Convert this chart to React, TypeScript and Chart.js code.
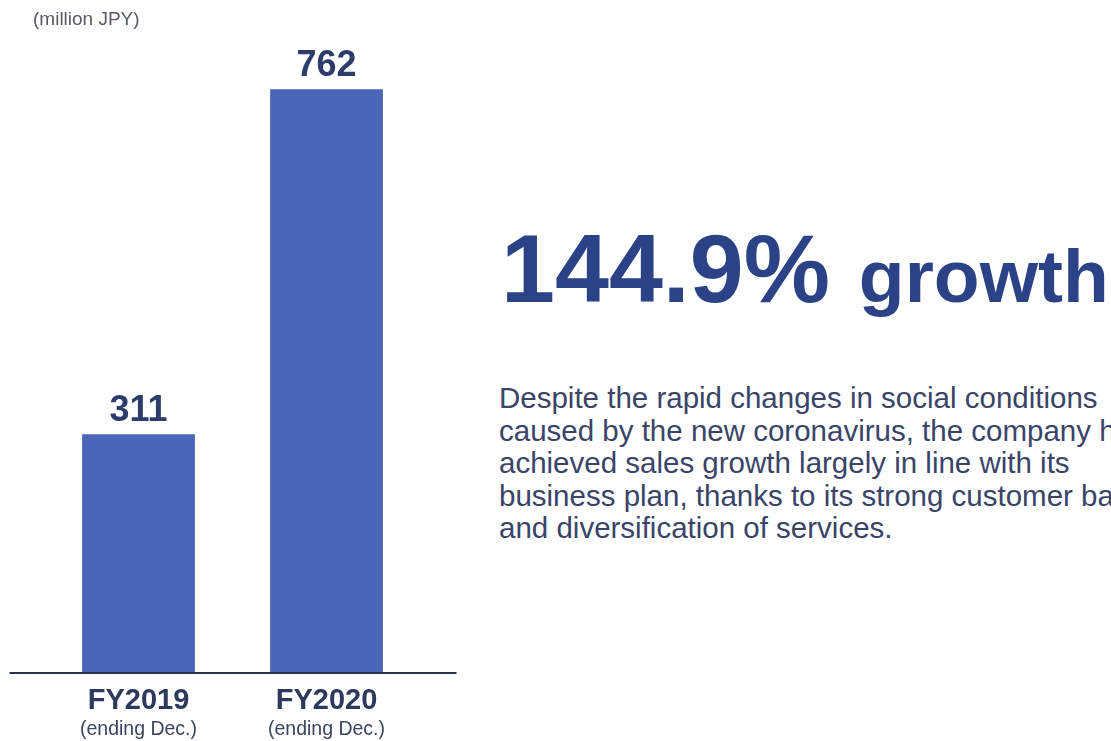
import React, { useEffect, useRef } from "react";
import { Chart, registerables } from "chart.js";

Chart.register(...registerables);

const categories = ["FY2019", "FY2020"];
const subLabels = ["(ending Dec.)", "(ending Dec.)"];
const sales = [311, 762];
const unitLabel = "(million JPY)";
const headlineNumber = "144.9%";
const headlineWord = "growth";
const bodyLines = [
  "Despite the rapid changes in social conditions",
  "caused by the new coronavirus, the company has",
  "achieved sales growth largely in line with its",
  "business plan, thanks to its strong customer base",
  "and diversification of services.",
];

const FONT = "'Liberation Sans', Arial, sans-serif";

const decorPlugin = {
  id: "decor",
  afterDatasetsDraw(chart: any) {
    const ctx = chart.ctx;
    const area = chart.chartArea;
    const meta = chart.getDatasetMeta(0);
    const xScale = chart.scales.x;
    ctx.save();
    // baseline axis
    ctx.strokeStyle = "#2a3452";
    ctx.lineWidth = 2;
    ctx.beginPath();
    ctx.moveTo(area.left - 35, area.bottom + 1);
    ctx.lineTo(area.right + 36, area.bottom + 1);
    ctx.stroke();
    // value labels
    ctx.textAlign = "center";
    ctx.textBaseline = "alphabetic";
    meta.data.forEach((bar: any, i: number) => {
      ctx.fillStyle = "#2d3c6b";
      ctx.font = `bold 36px ${FONT}`;
      ctx.fillText(String(sales[i]), bar.x, bar.y - 13);
    });
    // category labels
    categories.forEach((c, i) => {
      const x = xScale.getPixelForValue(i);
      ctx.fillStyle = "#2d3a5e";
      ctx.font = `bold 29px ${FONT}`;
      ctx.fillText(c, x, area.bottom + 37);
      ctx.fillStyle = "#3c4560";
      ctx.font = `19.5px ${FONT}`;
      ctx.fillText(subLabels[i], x, area.bottom + 63);
    });
    ctx.restore();
  },
};

export default function App() {
  const ref = useRef<HTMLCanvasElement>(null);
  useEffect(() => {
    if (!ref.current) return;
    const chart = new Chart(ref.current, {
      type: "bar",
      data: {
        labels: categories,
        datasets: [
          {
            data: sales,
            backgroundColor: "#4a66b8",
            borderWidth: 0,
            barPercentage: 1,
            categoryPercentage: 0.6,
          },
        ],
      },
      options: {
        animation: false,
        responsive: false,
        maintainAspectRatio: false,
        layout: { padding: { left: 44.5, right: 49.5, top: 22, bottom: 69 } },
        plugins: { legend: { display: false }, tooltip: { enabled: false } },
        scales: {
          x: { display: false, offset: true },
          y: { display: false, min: 0, max: 850 },
        },
      },
      plugins: [decorPlugin],
    });
    return () => chart.destroy();
  }, []);

  return (
    <div
      style={{
        position: "fixed",
        left: 0,
        top: 0,
        width: 1111,
        height: 741,
        overflow: "hidden",
        background: "#ffffff",
        fontFamily: FONT,
      }}
    >
      <canvas ref={ref} width={470} height={741} style={{ position: "absolute", left: 0, top: 0, width: 470, height: 741 }} />
      <div
        style={{
          position: "absolute",
          left: 33,
          top: 9,
          fontSize: 19,
          lineHeight: "19px",
          color: "#555a66",
          whiteSpace: "nowrap",
        }}
      >
        {unitLabel}
      </div>
      <div
        style={{
          position: "absolute",
          left: 501,
          top: 219,
          lineHeight: "100px",
          color: "#2c4287",
          fontWeight: "bold",
          whiteSpace: "nowrap",
        }}
      >
        <span style={{ fontSize: 97 }}>{headlineNumber}</span>
        <span style={{ fontSize: 75, marginLeft: 8 }}> {headlineWord}</span>
      </div>
      <div
        style={{
          position: "absolute",
          left: 499,
          top: 382,
          fontSize: 29.5,
          lineHeight: "32.5px",
          color: "#3a4468",
          whiteSpace: "nowrap",
        }}
      >
        {bodyLines.map((l, i) => (
          <div key={i}>{l}</div>
        ))}
      </div>
    </div>
  );
}
